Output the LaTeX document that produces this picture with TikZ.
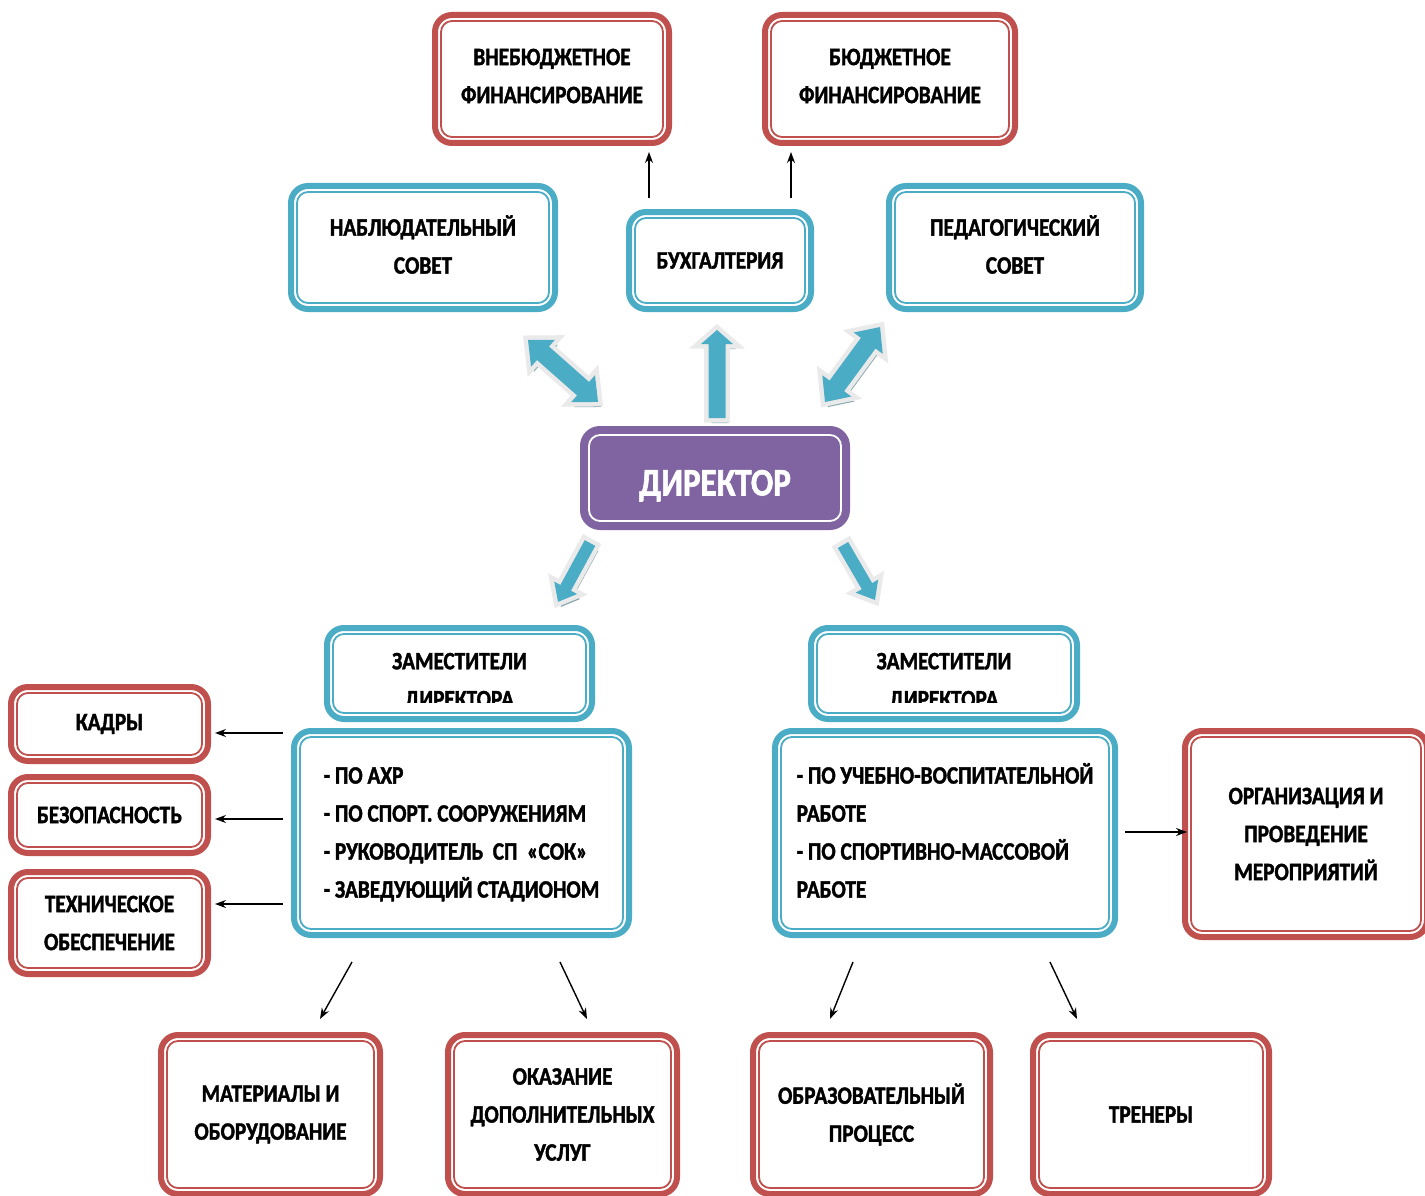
\documentclass[tikz,border=0pt]{standalone}
\usepackage{fontspec}
\setmainfont{Carlito}[FakeStretch=0.85, BoldFeatures={FakeBold=1.5}]
\usetikzlibrary{arrows.meta}
\definecolor{tealb}{HTML}{4BACC6}
\definecolor{redb}{HTML}{C0504D}
\definecolor{purb}{HTML}{8064A2}
\definecolor{arrbord}{HTML}{EAEAEA}
\definecolor{arrshad}{HTML}{86A6AE}
\newcommand\boxfont{\fontsize{25}{38}\selectfont\bfseries}
\tikzset{
  box/.style={rounded corners=17pt, line width=6pt, inner sep=0pt, align=center, font=\boxfont},
  innerline/.style={line width=1.8pt, rounded corners=11pt},
  conn/.style={line width=1.4pt, -{Stealth[length=11pt,width=8pt]}},
  blkshadow/.style={fill=arrshad},
  blkborder/.style={draw=arrbord, line width=9pt, line join=miter},
  blkfill/.style={fill=tealb},
}
% name, x1, y1, x2, y2 (outer extents), colour, text
\newcommand\bx[7]{%
  \node[box, draw=#6, minimum width={#4-#2-6}, minimum height={#5-#3-6}] (#1) at ({(#2+#4)/2},{(#3+#5)/2}) {#7};
  \draw[innerline, #6] ([shift={(9pt,-9pt)}]#1.north west) rectangle ([shift={(-9pt,9pt)}]#1.south east);}
% arrow paths: L, s, h, k
\newcommand\sarrpath[4]{(0,-#2) -- (#1-#4,-#2) -- (#1-#4,-#3) -- (#1,0) -- (#1-#4,#3) -- (#1-#4,#2) -- (0,#2) -- cycle}
\newcommand\darrpath[4]{(0,0) -- (#4,-#3) -- (#4,-#2) -- (#1-#4,-#2) -- (#1-#4,-#3) -- (#1,0) -- (#1-#4,#3) -- (#1-#4,#2) -- (#4,#2) -- (#4,#3) -- cycle}
% x, y, angle, L, s, h, k
\newcommand\blkarrow[7]{%
  \begin{scope}[shift={(#1+3,#2+5)}, rotate=#3]\fill[blkshadow] \sarrpath{#4}{#5}{#6}{#7};\end{scope}
  \begin{scope}[shift={(#1,#2)}, rotate=#3]
    \draw[blkborder] \sarrpath{#4}{#5}{#6}{#7};
    \fill[blkfill] \sarrpath{#4}{#5}{#6}{#7};
  \end{scope}}
\newcommand\blkdarrow[7]{%
  \begin{scope}[shift={(#1+3,#2+5)}, rotate=#3]\fill[blkshadow] \darrpath{#4}{#5}{#6}{#7};\end{scope}
  \begin{scope}[shift={(#1,#2)}, rotate=#3]
    \draw[blkborder] \darrpath{#4}{#5}{#6}{#7};
    \fill[blkfill] \darrpath{#4}{#5}{#6}{#7};
  \end{scope}}
\begin{document}
\begin{tikzpicture}[x=1pt,y=-1pt]
\useasboundingbox (0,0) rectangle (1425,1196);
\fill[white] (0,0) rectangle (1425,1196);

% block arrows
\blkdarrow{528}{340}{-41.5}{93.5}{9}{18}{20}
\blkarrow{717}{418}{90}{88}{8.5}{16}{14}
\blkdarrow{825}{402}{53.7}{93}{9}{18}{20}
\blkarrow{590}{543}{-118.5}{67}{6}{13}{16}
\blkarrow{843}{545}{-59.8}{63.6}{6}{13}{16}

% top row
\bx{vne}{432}{12}{672}{146}{redb}{ВНЕБЮДЖЕТНОЕ\\ФИНАНСИРОВАНИЕ\rule{0pt}{0pt}\vspace*{6pt}}
\bx{bud}{762}{12}{1018}{146}{redb}{БЮДЖЕТНОЕ\\ФИНАНСИРОВАНИЕ\vspace*{6pt}}
% second row
\bx{nab}{288}{183}{558}{312}{tealb}{НАБЛЮДАТЕЛЬНЫЙ\\СОВЕТ\vspace*{6pt}}
\bx{buh}{626}{209}{814}{312}{tealb}{БУХГАЛТЕРИЯ}
\bx{ped}{886}{183}{1144}{312}{tealb}{ПЕДАГОГИЧЕСКИЙ\\СОВЕТ\vspace*{6pt}}

% director
\node[box, draw=purb, fill=purb, text=white, font=\fontsize{39}{46}\selectfont\bfseries,
      text height=35pt, text depth=0pt, minimum width=264, minimum height=98] (dir) at (715,478) {ДИРЕКТОР};
\draw[innerline, white] ([shift={(9pt,-9pt)}]dir.north west) rectangle ([shift={(-9pt,9pt)}]dir.south east);

% deputies
\bx{zamL}{324}{625}{595}{722}{tealb}{}
\bx{zamR}{808}{625}{1080}{722}{tealb}{}
\begin{scope}
  \clip (320,620) rectangle (1090,702);
  \node[font=\boxfont, align=center, inner sep=0pt] (zamLt) at (459.5,682) {ЗАМЕСТИТЕЛИ\\ДИРЕКТОРА};
  \node[font=\boxfont, align=center, inner sep=0pt] (zamRt) at (944,682) {ЗАМЕСТИТЕЛИ\\ДИРЕКТОРА};
\end{scope}

\bx{bigL}{291}{728}{632}{938}{tealb}{\begin{tabular}{@{}l@{}}- ПО АХР\\- ПО СПОРТ. СООРУЖЕНИЯМ\\- РУКОВОДИТЕЛЬ\ \ СП\ \ «СОК»\\- ЗАВЕДУЮЩИЙ СТАДИОНОМ\end{tabular}}
\bx{bigR}{772}{728}{1118}{938}{tealb}{\begin{tabular}{@{}l@{}}- ПО УЧЕБНО-ВОСПИТАТЕЛЬНОЙ\\РАБОТЕ\\- ПО СПОРТИВНО-МАССОВОЙ\\РАБОТЕ\end{tabular}}

% left column
\bx{kad}{8}{684}{211}{764}{redb}{КАДРЫ}
\bx{bez}{8}{774}{211}{856}{redb}{БЕЗОПАСНОСТЬ}
\bx{teh}{8}{869}{211}{977}{redb}{ТЕХНИЧЕСКОЕ\\ОБЕСПЕЧЕНИЕ}
% right
\bx{org}{1182}{728}{1430}{940}{redb}{ОРГАНИЗАЦИЯ И\\ПРОВЕДЕНИЕ\\МЕРОПРИЯТИЙ}
% bottom
\bx{mat}{158}{1032}{383}{1197}{redb}{МАТЕРИАЛЫ И\\ОБОРУДОВАНИЕ}
\bx{oka}{445}{1032}{680}{1197}{redb}{ОКАЗАНИЕ\\ДОПОЛНИТЕЛЬНЫХ\\УСЛУГ}
\bx{obr}{750}{1032}{993}{1197}{redb}{ОБРАЗОВАТЕЛЬНЫЙ\\ПРОЦЕСС}
\bx{tre}{1030}{1032}{1272}{1197}{redb}{ТРЕНЕРЫ}

% thin arrows (free ends)
\coordinate (b1) at (649,198); \coordinate (b1e) at (649,152);
\coordinate (b2) at (791,198); \coordinate (b2e) at (791,152);
\draw[conn] (b1) -- (b1e);
\draw[conn] (b2) -- (b2e);

\coordinate (l1) at (283,733); \coordinate (l1e) at (215,733);
\coordinate (l2) at (283,819); \coordinate (l2e) at (215,819);
\coordinate (l3) at (283,904); \coordinate (l3e) at (215,904);
\draw[conn] (l1) -- (l1e);
\draw[conn] (l2) -- (l2e);
\draw[conn] (l3) -- (l3e);

\coordinate (r1) at (1125,832); \coordinate (r1e) at (1187,832);
\draw[conn] (r1) -- (r1e);

\coordinate (d1) at (352,962); \coordinate (d1e) at (320,1019);
\coordinate (d2) at (560,962); \coordinate (d2e) at (587,1019);
\coordinate (d3) at (853,962); \coordinate (d3e) at (830,1019);
\coordinate (d4) at (1050,962); \coordinate (d4e) at (1077,1019);
\draw[conn] (d1) -- (d1e);
\draw[conn] (d2) -- (d2e);
\draw[conn] (d3) -- (d3e);
\draw[conn] (d4) -- (d4e);
\end{tikzpicture}
\end{document}
